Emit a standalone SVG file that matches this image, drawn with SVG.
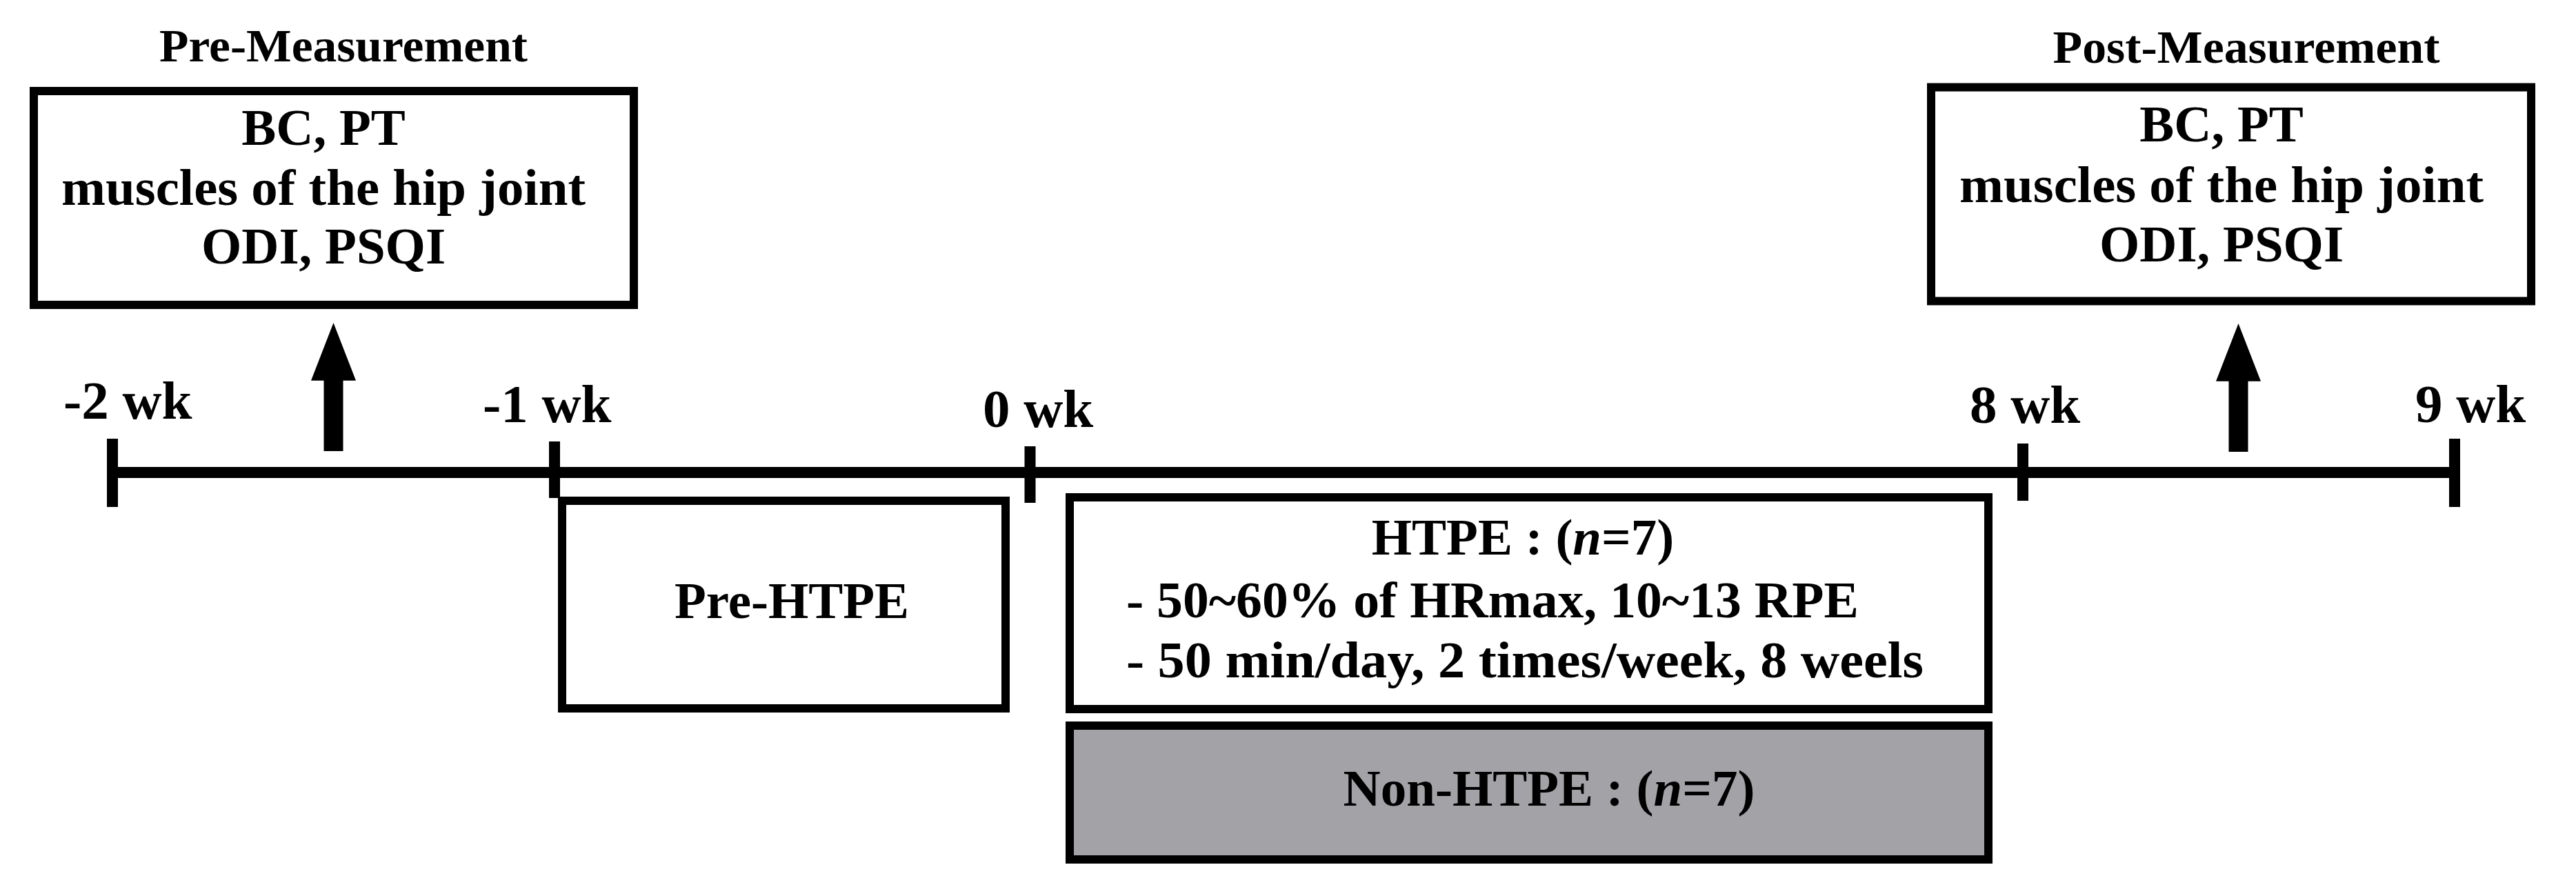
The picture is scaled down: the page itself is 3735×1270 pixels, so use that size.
<svg xmlns="http://www.w3.org/2000/svg" width="3735" height="1270" viewBox="0 0 3735 1270">
  <style>
    text { font-family: "Liberation Serif", "Times New Roman", serif; font-weight: bold; fill: #000; }
    .title { font-size: 68px; text-anchor: middle; }
    .body { font-size: 75px; }
    .mid { text-anchor: middle; }
    .wk { font-size: 79px; }
    .box { fill: #ffffff; stroke: #000; stroke-width: 12; }
    .grey { fill: #a3a2a7; stroke: #000; stroke-width: 12; }
    .tick { stroke: #000; stroke-width: 16; fill: none; }
    .axis { stroke: #000; stroke-width: 16; fill: none; }
    .arrow { fill: #000; stroke: none; }
  </style>
  <defs>
    <path id="uparrow" class="arrow" d="M-14,186 V83.7 H-32.5 L0,0 L32.5,83.7 H14 V186 Z"/>
  </defs>
  <rect width="3735" height="1270" fill="#ffffff"/>

  <g id="pre-measurement">
    <text class="title" x="498" y="89" textLength="534" lengthAdjust="spacingAndGlyphs">Pre-Measurement</text>
    <rect class="box" x="49" y="132" width="870" height="310"/>
    <text class="body mid" x="469" y="210">BC, PT</text>
    <text class="body mid" x="469" y="297" textLength="760" lengthAdjust="spacingAndGlyphs">muscles of the hip joint</text>
    <text class="body mid" x="469" y="382">ODI, PSQI</text>
  </g>

  <g id="post-measurement">
    <text class="title" x="3257" y="91" textLength="561" lengthAdjust="spacingAndGlyphs">Post-Measurement</text>
    <rect class="box" x="2800" y="126.5" width="870" height="310"/>
    <text class="body mid" x="3221" y="205">BC, PT</text>
    <text class="body mid" x="3221" y="293" textLength="760" lengthAdjust="spacingAndGlyphs">muscles of the hip joint</text>
    <text class="body mid" x="3221" y="379">ODI, PSQI</text>
  </g>

  <g id="pre-htpe">
    <rect class="box" x="815" y="726" width="643" height="301"/>
    <text class="body mid" x="1148" y="896">Pre-HTPE</text>
  </g>

  <g id="htpe">
    <rect class="box" x="1551" y="721" width="1332" height="307"/>
    <text class="body mid" x="2208" y="804">HTPE : (<tspan font-style="italic">n</tspan>=7)</text>
    <text class="body" x="1633" y="895" textLength="1062" lengthAdjust="spacingAndGlyphs">- 50~60% of HRmax, 10~13 RPE</text>
    <text class="body" x="1633" y="982" textLength="1156" lengthAdjust="spacingAndGlyphs">- 50 min/day, 2 times/week, 8 weels</text>
  </g>

  <g id="non-htpe">
    <rect class="grey" x="1551" y="1052" width="1332" height="194"/>
    <text class="body mid" x="2246" y="1168">Non-HTPE : (<tspan font-style="italic">n</tspan>=7)</text>
  </g>

  <g id="week-labels">
    <text class="wk" x="92" y="607">-2 wk</text>
    <text class="wk" x="700" y="612">-1 wk</text>
    <text class="wk" x="1425" y="619">0 wk</text>
    <text class="wk" x="2856" y="613">8 wk</text>
    <text class="wk" x="3502" y="612">9 wk</text>
  </g>

  <g id="connectors">
    <line class="axis" x1="155" y1="685" x2="3567" y2="685"/>
    <line class="tick" x1="163" y1="636" x2="163" y2="735"/>
    <line class="tick" x1="804" y1="640" x2="804" y2="722"/>
    <line class="tick" x1="1493.5" y1="647" x2="1493.5" y2="729"/>
    <line class="tick" x1="2933" y1="643" x2="2933" y2="726"/>
    <line class="tick" x1="3559" y1="636" x2="3559" y2="735"/>
    <use href="#uparrow" transform="translate(483.5,468)"/>
    <use href="#uparrow" transform="translate(3245.5,469)"/>
  </g>
</svg>
